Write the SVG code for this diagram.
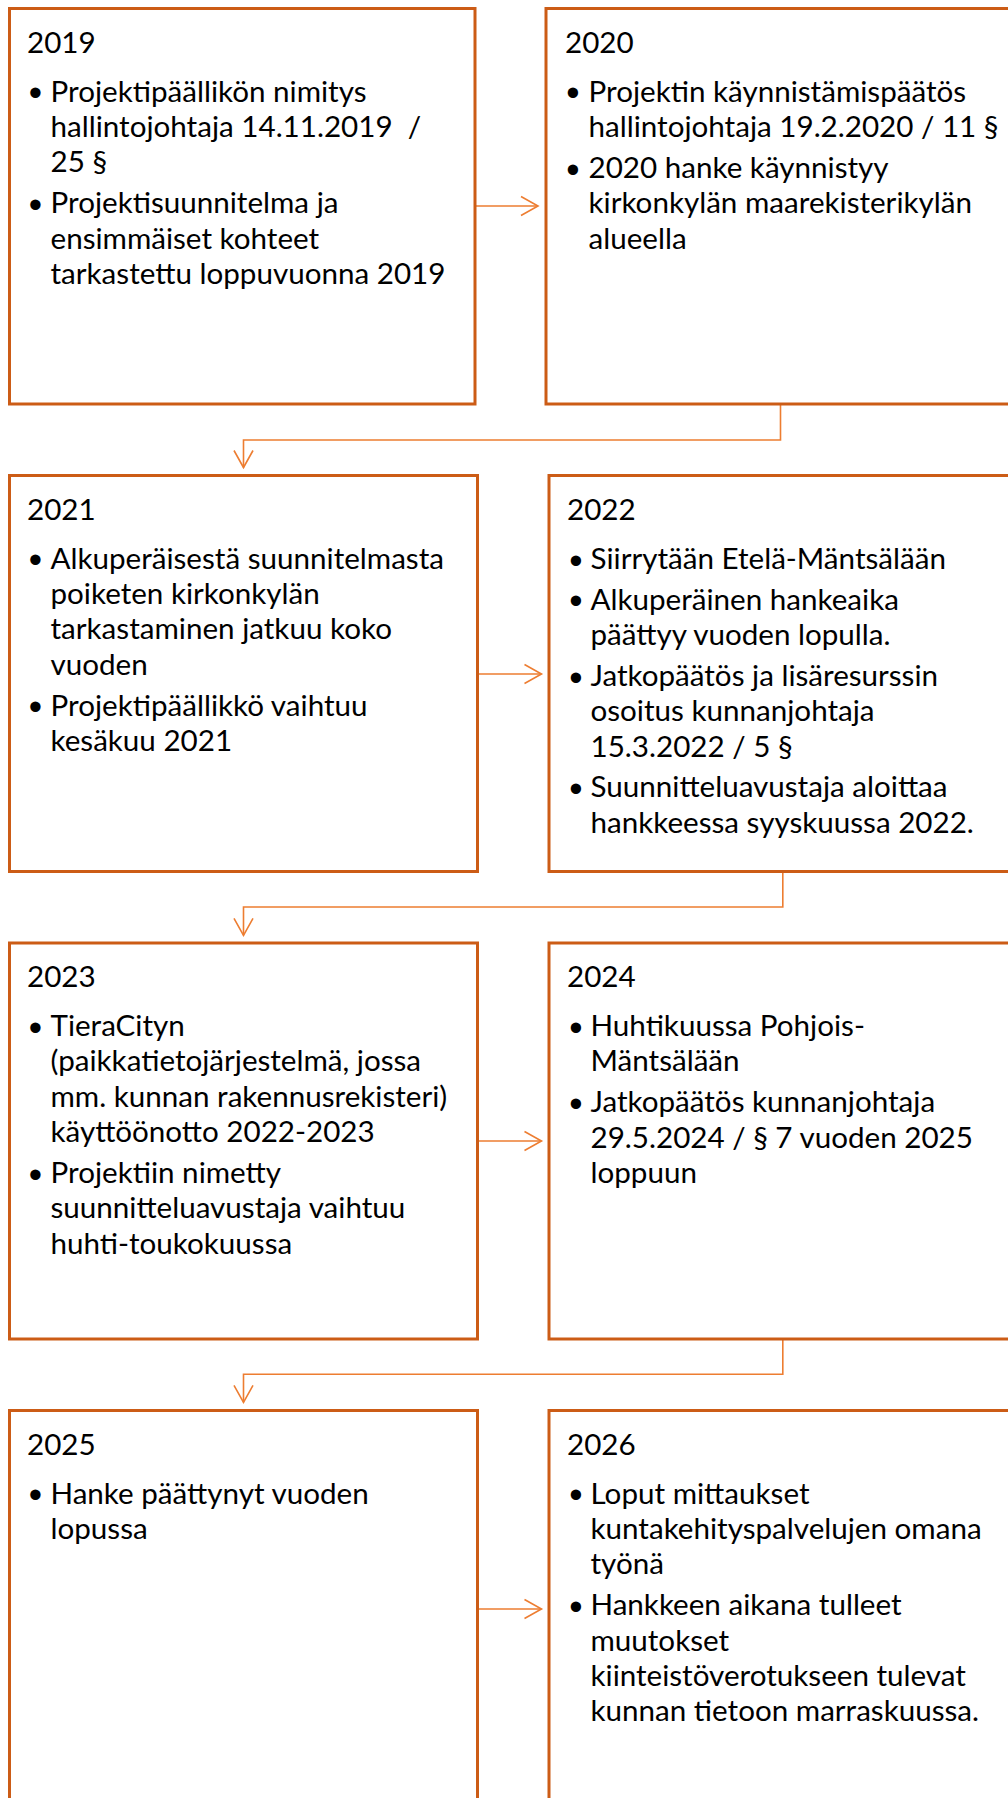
<svg xmlns="http://www.w3.org/2000/svg" width="1008" height="1798" viewBox="0 0 1008 1798">
  <defs>
    <style>
      .box { fill: #ffffff; stroke: #CC5C16; stroke-width: 3; }
      .t { font-family: Lato, "Open Sans", "Liberation Sans", sans-serif; font-size: 29.6px; fill: #000000; }
      .b { font-family: "Liberation Sans", Arial, sans-serif; font-size: 38px; fill: #000000; text-anchor: middle; }
      .conn { fill: none; stroke: #ED7D31; stroke-width: 1.6; }
    </style>
    <marker id="arrow" markerUnits="userSpaceOnUse" markerWidth="22" markerHeight="22" refX="18" refY="10" orient="auto" viewBox="0 0 22 20">
      <path d="M1,0.5 L18,10 L1,19.5" fill="none" stroke="#ED7D31" stroke-width="1.6"/>
    </marker>
  </defs>
  <rect width="1008" height="1798" fill="#ffffff"/>

  <g id="connectors">
    <line class="conn" x1="475" y1="206" x2="538" y2="206" marker-end="url(#arrow)"/>
    <path class="conn" d="M780.5,404 V440 H243.5 V467.5" marker-end="url(#arrow)"/>
    <line class="conn" x1="477.5" y1="674" x2="541.5" y2="674" marker-end="url(#arrow)"/>
    <path class="conn" d="M782.8,871.5 V907 H243.5 V935.3" marker-end="url(#arrow)"/>
    <line class="conn" x1="477.5" y1="1141" x2="541.5" y2="1141" marker-end="url(#arrow)"/>
    <path class="conn" d="M782.8,1339 V1374.3 H243.5 V1402.3" marker-end="url(#arrow)"/>
    <line class="conn" x1="477.5" y1="1609" x2="541.5" y2="1609" marker-end="url(#arrow)"/>
  </g>

  <g id="node-2019">
    <rect class="box" x="9.5" y="8.5" width="465.5" height="395.5"/>
    <text class="t" x="27" y="52.7">2019</text>
    <text class="b" x="35.3" y="106.3">•</text>
    <text class="t" x="50.5" y="101.5">Projektipäällikön nimitys</text>
    <text class="t" x="50.5" y="136.9" xml:space="preserve">hallintojohtaja 14.11.2019  /</text>
    <text class="t" x="50.5" y="172.3">25 §</text>
    <text class="b" x="35.3" y="217.9">•</text>
    <text class="t" x="50.5" y="213.1">Projektisuunnitelma ja</text>
    <text class="t" x="50.5" y="248.5">ensimmäiset kohteet</text>
    <text class="t" x="50.5" y="283.9">tarkastettu loppuvuonna 2019</text>
  </g>

  <g id="node-2020">
    <rect class="box" x="546" y="8.5" width="465.5" height="395.5"/>
    <text class="t" x="565" y="52.7">2020</text>
    <text class="b" x="573" y="106.3">•</text>
    <text class="t" x="588.5" y="101.5">Projektin käynnistämispäätös</text>
    <text class="t" x="588.5" y="136.9">hallintojohtaja 19.2.2020 / 11 §</text>
    <text class="b" x="573" y="182.5">•</text>
    <text class="t" x="588.5" y="177.7">2020 hanke käynnistyy</text>
    <text class="t" x="588.5" y="213.1">kirkonkylän maarekisterikylän</text>
    <text class="t" x="588.5" y="248.5">alueella</text>
  </g>

  <g id="node-2021">
    <rect class="box" x="9.5" y="475.5" width="468" height="396"/>
    <text class="t" x="27" y="519.7">2021</text>
    <text class="b" x="35.3" y="573.3">•</text>
    <text class="t" x="50.5" y="568.5">Alkuperäisestä suunnitelmasta</text>
    <text class="t" x="50.5" y="603.9">poiketen kirkonkylän</text>
    <text class="t" x="50.5" y="639.3">tarkastaminen jatkuu koko</text>
    <text class="t" x="50.5" y="674.7">vuoden</text>
    <text class="b" x="35.3" y="720.3">•</text>
    <text class="t" x="50.5" y="715.5">Projektipäällikkö vaihtuu</text>
    <text class="t" x="50.5" y="750.9">kesäkuu 2021</text>
  </g>

  <g id="node-2022">
    <rect class="box" x="549" y="475.5" width="465" height="396"/>
    <text class="t" x="567" y="519.7">2022</text>
    <text class="b" x="576" y="573.6">•</text>
    <text class="t" x="590.5" y="568.8">Siirrytään Etelä-Mäntsälään</text>
    <text class="b" x="576" y="614.4">•</text>
    <text class="t" x="590.5" y="609.6">Alkuperäinen hankeaika</text>
    <text class="t" x="590.5" y="645">päättyy vuoden lopulla.</text>
    <text class="b" x="576" y="690.6">•</text>
    <text class="t" x="590.5" y="685.8">Jatkopäätös ja lisäresurssin</text>
    <text class="t" x="590.5" y="721.2">osoitus kunnanjohtaja</text>
    <text class="t" x="590.5" y="756.6">15.3.2022 / 5 §</text>
    <text class="b" x="576" y="802.2">•</text>
    <text class="t" x="590.5" y="797.4">Suunnitteluavustaja aloittaa</text>
    <text class="t" x="590.5" y="832.8">hankkeessa syyskuussa 2022.</text>
  </g>

  <g id="node-2023">
    <rect class="box" x="9.5" y="943" width="468" height="396"/>
    <text class="t" x="27" y="987.2">2023</text>
    <text class="b" x="35.3" y="1040.8">•</text>
    <text class="t" x="50.5" y="1036">TieraCityn</text>
    <text class="t" x="50.5" y="1071.4">(paikkatietojärjestelmä, jossa</text>
    <text class="t" x="50.5" y="1106.8">mm. kunnan rakennusrekisteri)</text>
    <text class="t" x="50.5" y="1142.2">käyttöönotto 2022-2023</text>
    <text class="b" x="35.3" y="1187.8">•</text>
    <text class="t" x="50.5" y="1183">Projektiin nimetty</text>
    <text class="t" x="50.5" y="1218.4">suunnitteluavustaja vaihtuu</text>
    <text class="t" x="50.5" y="1253.8">huhti-toukokuussa</text>
  </g>

  <g id="node-2024">
    <rect class="box" x="549" y="943" width="465" height="396"/>
    <text class="t" x="567" y="987.2">2024</text>
    <text class="b" x="576" y="1040.8">•</text>
    <text class="t" x="590.5" y="1036">Huhtikuussa Pohjois-</text>
    <text class="t" x="590.5" y="1071.4">Mäntsälään</text>
    <text class="b" x="576" y="1117">•</text>
    <text class="t" x="590.5" y="1112.2">Jatkopäätös kunnanjohtaja</text>
    <text class="t" x="590.5" y="1147.6">29.5.2024 / § 7 vuoden 2025</text>
    <text class="t" x="590.5" y="1183">loppuun</text>
  </g>

  <g id="node-2025">
    <rect class="box" x="9.5" y="1410.5" width="468" height="396"/>
    <text class="t" x="27" y="1454.7">2025</text>
    <text class="b" x="35.3" y="1508.3">•</text>
    <text class="t" x="50.5" y="1503.5">Hanke päättynyt vuoden</text>
    <text class="t" x="50.5" y="1538.9">lopussa</text>
  </g>

  <g id="node-2026">
    <rect class="box" x="549" y="1410.5" width="465" height="396"/>
    <text class="t" x="567" y="1454.7">2026</text>
    <text class="b" x="576" y="1508.3">•</text>
    <text class="t" x="590.5" y="1503.5">Loput mittaukset</text>
    <text class="t" x="590.5" y="1538.9">kuntakehityspalvelujen omana</text>
    <text class="t" x="590.5" y="1574.3">työnä</text>
    <text class="b" x="576" y="1619.9">•</text>
    <text class="t" x="590.5" y="1615.1">Hankkeen aikana tulleet</text>
    <text class="t" x="590.5" y="1650.5">muutokset</text>
    <text class="t" x="590.5" y="1685.9">kiinteistöverotukseen tulevat</text>
    <text class="t" x="590.5" y="1721.3">kunnan tietoon marraskuussa.</text>
  </g>
</svg>
